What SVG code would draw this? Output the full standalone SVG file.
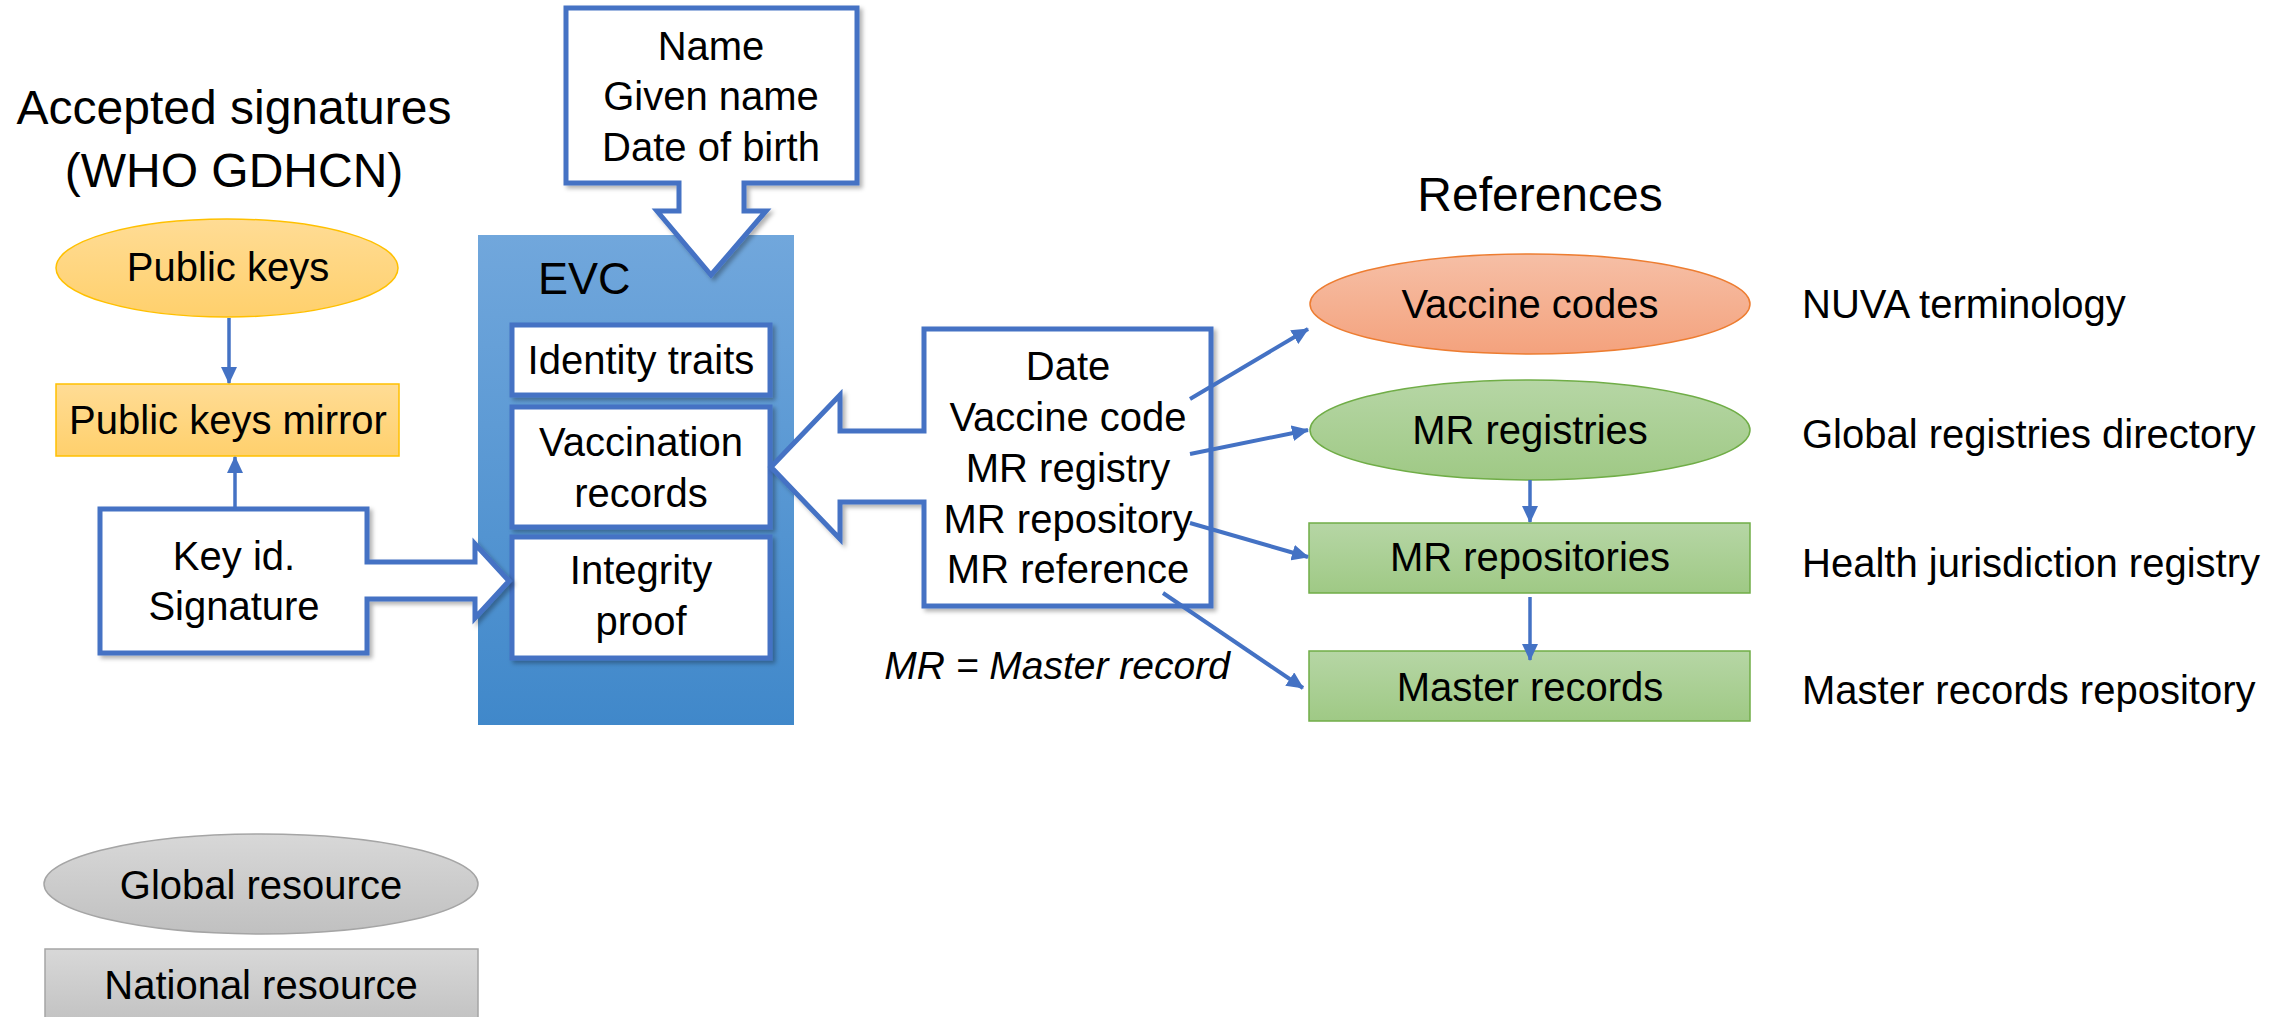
<svg xmlns="http://www.w3.org/2000/svg" width="2284" height="1017" viewBox="0 0 2284 1017">
<defs>
  <linearGradient id="gEvc" x1="0" y1="0" x2="0" y2="1">
    <stop offset="0" stop-color="#71A7DC"/><stop offset="1" stop-color="#4088CA"/>
  </linearGradient>
  <linearGradient id="gOrange" x1="0" y1="0" x2="0" y2="1">
    <stop offset="0" stop-color="#FFDC95"/><stop offset="1" stop-color="#FFD06C"/>
  </linearGradient>
  <linearGradient id="gSalmon" x1="0" y1="0" x2="0" y2="1">
    <stop offset="0" stop-color="#F6BFA6"/><stop offset="1" stop-color="#F4A27D"/>
  </linearGradient>
  <linearGradient id="gGreen" x1="0" y1="0" x2="0" y2="1">
    <stop offset="0" stop-color="#B6D6A5"/><stop offset="1" stop-color="#9FC985"/>
  </linearGradient>
  <linearGradient id="gGray" x1="0" y1="0" x2="0" y2="1">
    <stop offset="0" stop-color="#D8D8D8"/><stop offset="1" stop-color="#C0C0C0"/>
  </linearGradient>
  <filter id="shadow" x="-10%" y="-10%" width="130%" height="130%">
    <feDropShadow dx="3" dy="3" stdDeviation="2" flood-color="#000" flood-opacity="0.3"/>
  </filter>
  <marker id="arr" markerUnits="userSpaceOnUse" markerWidth="18" markerHeight="16" refX="16" refY="8" orient="auto">
    <path d="M0,0 L17,8 L0,16 Z" fill="#4472C4"/>
  </marker>
  <style>
    text { font-family: "Liberation Sans", Arial, sans-serif; fill: #000; }
    .t { font-size: 40px; text-anchor: middle; }
    .tl { font-size: 40px; text-anchor: start; }
    .title { font-size: 48px; text-anchor: middle; }
    .callout { fill: #FFFFFF; stroke: #4472C4; stroke-width: 5; stroke-linejoin: miter; filter: url(#shadow); }
    .inner { fill: #FFFFFF; stroke: #4472C4; stroke-width: 5; filter: url(#shadow); }
    .conn { stroke: #4472C4; stroke-width: 4; fill: none; marker-end: url(#arr); }
    .conn3 { stroke: #4472C4; stroke-width: 3.5; fill: none; marker-end: url(#arr); }
  </style>
</defs>

<rect width="2284" height="1017" fill="#FFFFFF"/>

<g id="title-accepted">
  <text class="title" x="234" y="124">Accepted signatures</text>
  <text class="title" x="234" y="187">(WHO GDHCN)</text>
</g>

<g id="title-references">
  <text class="title" x="1540" y="211">References</text>
</g>

<g id="evc">
  <rect x="478" y="235" width="316" height="490" fill="url(#gEvc)"/>
  <text x="538" y="294" style="font-size:45px">EVC</text>
</g>

<g id="identity-traits">
  <rect class="inner" x="512" y="325" width="258" height="70"/>
  <text class="t" x="641" y="374">Identity traits</text>
</g>

<g id="vaccination-records">
  <rect class="inner" x="512" y="407" width="258" height="120"/>
  <text class="t" x="641" y="456">Vaccination</text>
  <text class="t" x="641" y="507">records</text>
</g>

<g id="integrity-proof">
  <rect class="inner" x="512" y="537" width="258" height="121"/>
  <text class="t" x="641" y="584">Integrity</text>
  <text class="t" x="641" y="635">proof</text>
</g>

<g id="identity-data">
  <path class="callout" d="M566,8 L857,8 L857,183 L744,183 L744,211 L766,211 L711,275 L657,211 L679,211 L679,183 L566,183 Z"/>
  <text class="t" x="711" y="60">Name</text>
  <text class="t" x="711" y="110">Given name</text>
  <text class="t" x="711" y="161">Date of birth</text>
</g>

<g id="record-data">
  <path class="callout" d="M924,329 L1211,329 L1211,606 L924,606 L924,502 L840,502 L840,539 L771,467 L840,395 L840,431 L924,431 Z"/>
  <text class="t" x="1068" y="380">Date</text>
  <text class="t" x="1068" y="431">Vaccine code</text>
  <text class="t" x="1068" y="482">MR registry</text>
  <text class="t" x="1068" y="533">MR repository</text>
  <text class="t" x="1068" y="583">MR reference</text>
</g>

<g id="mr-note">
  <text x="1057" y="679" style="font-size:39px;font-style:italic;text-anchor:middle">MR = Master record</text>
</g>

<g id="signature">
  <path class="callout" d="M100,509 L367,509 L367,562 L475,562 L475,544 L509,581 L475,618 L475,599 L367,599 L367,653 L100,653 Z"/>
  <text class="t" x="234" y="570">Key id.</text>
  <text class="t" x="234" y="620">Signature</text>
</g>

<g id="public-keys">
  <ellipse cx="227" cy="268" rx="171" ry="49" fill="url(#gOrange)" stroke="#FFC000" stroke-width="1.5"/>
  <text class="t" x="228" y="281">Public keys</text>
</g>

<g id="public-keys-mirror">
  <rect x="56" y="384" width="343" height="72" fill="url(#gOrange)" stroke="#FFC000" stroke-width="1.5"/>
  <text class="t" x="228" y="434">Public keys mirror</text>
</g>

<g id="vaccine-codes">
  <ellipse cx="1530" cy="304" rx="220" ry="50" fill="url(#gSalmon)" stroke="#ED7D31" stroke-width="1.5"/>
  <text class="t" x="1530" y="318">Vaccine codes</text>
</g>

<g id="mr-registries">
  <ellipse cx="1530" cy="430" rx="220" ry="50" fill="url(#gGreen)" stroke="#70AD47" stroke-width="1.5"/>
  <text class="t" x="1530" y="444">MR registries</text>
</g>

<g id="mr-repositories">
  <rect x="1309" y="523" width="441" height="70" fill="url(#gGreen)" stroke="#70AD47" stroke-width="1.5"/>
  <text class="t" x="1530" y="571">MR repositories</text>
</g>

<g id="master-records">
  <rect x="1309" y="651" width="441" height="70" fill="url(#gGreen)" stroke="#70AD47" stroke-width="1.5"/>
  <text class="t" x="1530" y="701">Master records</text>
</g>

<g id="labels-right">
  <text class="tl" x="1802" y="318">NUVA terminology</text>
  <text class="tl" x="1802" y="448">Global registries directory</text>
  <text class="tl" x="1802" y="577">Health jurisdiction registry</text>
  <text class="tl" x="1802" y="704">Master records repository</text>
</g>

<g id="legend-global">
  <ellipse cx="261" cy="884" rx="217" ry="50" fill="url(#gGray)" stroke="#A5A5A5" stroke-width="1.5"/>
  <text class="t" x="261" y="899">Global resource</text>
</g>

<g id="legend-national">
  <rect x="45" y="949" width="433" height="80" fill="url(#gGray)" stroke="#A5A5A5" stroke-width="1.5"/>
  <text class="t" x="261" y="999">National resource</text>
</g>

<g id="connectors">
  <line class="conn3" x1="229" y1="318" x2="229" y2="383"/>
  <line class="conn3" x1="235" y1="509" x2="235" y2="457"/>
  <line class="conn" x1="1190" y1="399" x2="1308" y2="329"/>
  <line class="conn" x1="1190" y1="454" x2="1308" y2="430"/>
  <line class="conn" x1="1190" y1="523" x2="1308" y2="557"/>
  <line class="conn" x1="1163" y1="593" x2="1303" y2="688"/>
  <line class="conn3" x1="1530" y1="480" x2="1530" y2="522"/>
  <line class="conn3" x1="1530" y1="597" x2="1530" y2="660"/>
</g>
</svg>
